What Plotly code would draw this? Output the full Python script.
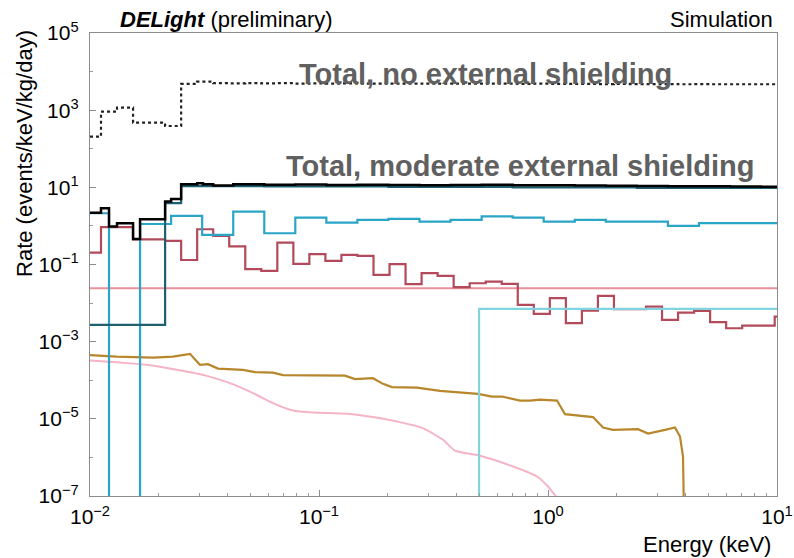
import plotly.graph_objects as go

# ---------------- data ----------------
# fine log-binning (0.07 dex) used by the red component and the "no shielding" total
FINE_EDGES = [0.01, 0.011169, 0.013122, 0.015417, 0.018113, 0.021281, 0.025003, 0.029376,
              0.034514, 0.040551, 0.047643, 0.055976, 0.065766, 0.077268, 0.090782, 0.10666,
              0.12531, 0.14723, 0.17298, 0.20324, 0.23878, 0.28054, 0.32961, 0.38726,
              0.45499, 0.53456, 0.62806, 0.73790, 0.86696, 1.0186, 1.1967, 1.4060, 1.6520,
              1.9409, 2.2803, 2.6792, 3.1477, 3.6983, 4.3451, 5.1050, 5.9979, 7.0469,
              8.2794, 9.7724, 10.0]

RED_RATE = [0.203, 0.925, 0.925, 0.45, 0.45, 0.41, 0.131, 0.82, 0.55, 0.294, 0.0755,
            0.068, 0.369, 0.104, 0.185, 0.124, 0.177, 0.167, 0.0538, 0.102, 0.0309, 0.0596,
            0.0507, 0.0258, 0.0327, 0.036, 0.0314, 0.00897, 0.00525, 0.0134, 0.00301, 0.0064,
            0.0154, 0.00695, 0.00695, 0.0081, 0.00367, 0.00567, 0.00628, 0.0032, 0.00223,
            0.00261, 0.00261, 0.00447]

NO_SHIELD_RATE = [206, 914, 1161, 475, 475, 389, 4777, 5470, 5000, 4950, 5050, 4950, 5000,
                  4900, 4950, 4900, 4950, 4900, 4850, 4900, 4900, 4850, 4900, 4850, 4850,
                  4900, 4850, 4800, 4850, 4800, 4800, 4800, 4750, 4800, 4750, 4750, 4750,
                  4700, 4750, 4700, 4700, 4700, 4700, 4700]

# coarse log-binning used by the cyan component
COARSE_EDGES = [0.01, 0.012106, 0.016543, 0.022606, 0.030891, 0.042213, 0.057683, 0.078797,
                0.10767, 0.14714, 0.20106, 0.27476, 0.37545, 0.51306, 0.70111, 0.95789,
                1.3090, 1.7886, 2.4443, 3.3389, 4.5624, 6.2344, 8.5197, 10.0]
CYAN_RATE = [2.13, 0.0, 1.12, 1.82, 0.585, 2.35, 0.646, 1.64, 1.22, 1.43, 1.52, 1.29, 1.43,
             1.77, 1.64, 1.29, 1.43, 1.29, 1.29, 1.0, 1.18, 1.18, 1.18]

# total with moderate external shielding
TOTAL_EDGES = [0.01, 0.011169, 0.012106, 0.013122, 0.015417, 0.016543, 0.021281, 0.022606,
               0.025003, 0.029376, 0.03114, 0.034514, 0.042213, 0.057683, 0.078797, 0.10767,
               0.14714, 0.20106, 0.27476, 0.37545, 0.51306, 0.70111, 0.95789, 1.3090, 1.7886,
               2.4443, 3.3389, 4.5624, 6.2344, 8.5197, 10.0]
TOTAL_RATE = [2.21, 2.88, 0.96, 1.18, 0.46, 1.49, 4.27, 5.0, 12.0, 12.8, 12.0, 11.1, 12.0,
              11.6, 11.9, 11.5, 11.7, 11.5, 11.4, 11.5, 11.6, 11.3, 11.3, 11.1, 11.0, 10.9,
              10.7, 10.6, 10.5, 10.4]

# dark teal component
TEAL_EDGES = [0.01, 0.021281, 0.025003, 0.057683, 0.20106, 0.70111, 2.4443, 10.0]
TEAL_RATE = [0.00272, 3.9, 10.7, 10.5, 10.3, 10.0, 9.6]

# light aqua component (switches on at 0.5 keV)
AQUA_EDGES = [0.01, 0.5, 10.0]
AQUA_RATE = [0.0, 0.0071]

# flat light-red component
FLAT_EDGES = [0.01, 10.0]
FLAT_RATE = [0.0243]

# gold curve
GOLD_E = [0.0100, 0.01308, 0.01884, 0.02304, 0.02733, 0.03021, 0.03276, 0.03622, 0.04657,
          0.05254, 0.06295, 0.06964, 0.1299, 0.1436, 0.1721, 0.1903, 0.2084, 0.2679, 0.3376,
          0.4945, 0.5694, 0.6297, 0.7545, 0.8344, 0.9227, 1.095, 1.186, 1.352, 1.572, 1.739,
          1.922, 2.472, 2.734, 3.244, 3.585, 3.771, 3.886, 3.966]
GOLD_RATE = [4.47e-4, 4.11e-4, 3.87e-4, 4.11e-4, 4.83e-4, 2.51e-4, 2.61e-4, 2.01e-4, 1.86e-4,
             1.62e-4, 1.58e-4, 1.36e-4, 1.32e-4, 1.07e-4, 1.13e-4, 8.07e-5, 6.63e-5, 6.47e-5,
             5.31e-5, 4.44e-5, 3.78e-5, 3.78e-5, 2.98e-5, 2.98e-5, 3.16e-5, 2.98e-5, 1.32e-5,
             1.22e-5, 1.11e-5, 5.96e-6, 5.19e-6, 5.41e-6, 4.16e-6, 5.19e-6, 5.96e-6, 3.48e-6,
             1.05e-6, 1e-9]

# pink smooth curve
PINK_E = [0.0100, 0.01352, 0.01769, 0.02391, 0.03233, 0.04087, 0.05150, 0.06295, 0.07698,
          0.09415, 0.1325, 0.1721, 0.2258, 0.2844, 0.3478, 0.3926, 0.5048, 0.7035, 0.8954,
          1.000, 1.084]
PINK_RATE = [3.24e-4, 2.87e-4, 2.51e-4, 1.86e-4, 1.30e-4, 8.41e-5, 4.63e-5, 2.55e-5, 1.64e-5,
             1.46e-5, 1.35e-5, 1.11e-5, 8.22e-6, 5.74e-6, 2.86e-6, 1.50e-6, 1.10e-6, 5.81e-7,
             3.20e-7, 1.76e-7, 9.7e-8]

Y_TICKS = [1e-7, 1e-5, 1e-3, 1e-1, 1e1, 1e3, 1e5]
Y_TICKTEXT = ["10<sup>−7</sup>", "10<sup>−5</sup>", "10<sup>−3</sup>", "10<sup>−1</sup>",
              "10<sup>1</sup>", "10<sup>3</sup>", "10<sup>5</sup>"]
X_TICKS = [0.01, 0.1, 1, 10]
X_TICKTEXT = ["10<sup>−2</sup>", "10<sup>−1</sup>", "10<sup>0</sup>", "10<sup>1</sup>"]

# ---------------- figure ----------------
FONT = "Liberation Sans, Arial, sans-serif"
FLOOR = 1e-12


def step(edges, vals):
    ys = [v if v > 0 else FLOOR for v in vals]
    return list(edges), ys + [ys[-1]]


fig = go.Figure()

fig.add_trace(go.Scatter(x=PINK_E, y=PINK_RATE, mode="lines",
                         line=dict(color="#f5b3c5", width=2, shape="spline", smoothing=0.5)))
fig.add_trace(go.Scatter(x=GOLD_E, y=GOLD_RATE, mode="lines",
                         line=dict(color="#b8862b", width=2.2)))

series = [
    (FINE_EDGES, NO_SHIELD_RATE, "#222222", 2.2, "dot"),
    (FLAT_EDGES, FLAT_RATE, "#e8919b", 2, "solid"),
    (FINE_EDGES, RED_RATE, "#b24a5b", 2.2, "solid"),
    (AQUA_EDGES, AQUA_RATE, "#7fd4df", 2.2, "solid"),
    (COARSE_EDGES, CYAN_RATE, "#2ba5c5", 2.2, "solid"),
    (TEAL_EDGES, TEAL_RATE, "#1f6070", 2.2, "solid"),
    (TOTAL_EDGES, TOTAL_RATE, "#000000", 2.5, "solid"),
]
for edges, vals, col, w, dash in series:
    xs, ys = step(edges, vals)
    fig.add_trace(go.Scatter(x=xs, y=ys, mode="lines",
                             line=dict(color=col, width=w, shape="hv", dash=dash)))

axis_common = dict(type="log", showgrid=False, zeroline=False, showline=True,
                   linecolor="#8c8c8c", linewidth=1.3, mirror=True, ticks="inside",
                   tickcolor="#8c8c8c", ticklen=6, automargin=False,
                   tickfont=dict(family=FONT, size=21, color="#000000"))

fig.update_xaxes(range=[-2, 1], tickvals=X_TICKS, ticktext=X_TICKTEXT,
                 minor=dict(ticks="inside", ticklen=3, tickcolor="#9a9a9a",
                            tickvals=[0.02, 0.03, 0.04, 0.05, 0.06, 0.07, 0.08, 0.09,
                                      0.2, 0.3, 0.4, 0.5, 0.6, 0.7, 0.8, 0.9,
                                      2, 3, 4, 5, 6, 7, 8, 9]),
                 ticklabelstandoff=2, **axis_common)
fig.update_yaxes(range=[-7, 5], tickvals=Y_TICKS, ticktext=Y_TICKTEXT,
                 minor=dict(ticks="inside", ticklen=3, tickcolor="#9a9a9a",
                            tickvals=[1e-6, 1e-4, 1e-2, 1, 1e2, 1e4]),
                 ticklabelstandoff=6, **axis_common)

gray = "#606060"
ann = [
    dict(text="<b>Total, no external shielding</b>", x=0.3013, y=0.9114, xanchor="left",
         yanchor="middle", font=dict(family=FONT, size=29, color=gray)),
    dict(text="<b>Total, moderate external shielding</b>", x=0.2824, y=0.7127, xanchor="left",
         yanchor="middle", font=dict(family=FONT, size=29, color=gray)),
    dict(text="<b><i>DELight</i></b> (preliminary)", x=0.0408, y=1.0302, xanchor="left",
         yanchor="middle", font=dict(family=FONT, size=22, color="#000000")),
    dict(text="Simulation", x=0.997, y=1.0302, xanchor="right", yanchor="middle",
         font=dict(family=FONT, size=22, color="#000000")),
    dict(text="Rate (events/keV/kg/day)", x=-0.0946, y=0.7387, xanchor="center",
         yanchor="middle", textangle=-90, font=dict(family=FONT, size=22, color="#000000")),
    dict(text="Energy (keV)", x=0.9942, y=-0.1058, xanchor="right", yanchor="middle",
         font=dict(family=FONT, size=22, color="#000000")),
]
for a in ann:
    fig.add_annotation(xref="paper", yref="paper", showarrow=False, **a)

fig.update_layout(width=794, height=558, showlegend=False,
                  margin=dict(l=90, r=17, t=33, b=62),
                  paper_bgcolor="white", plot_bgcolor="white",
                  font=dict(family=FONT))

fig.write_html("out.html", config={"displayModeBar": False},
               post_script="document.body.style.margin='0px';document.body.style.overflow='hidden';")
